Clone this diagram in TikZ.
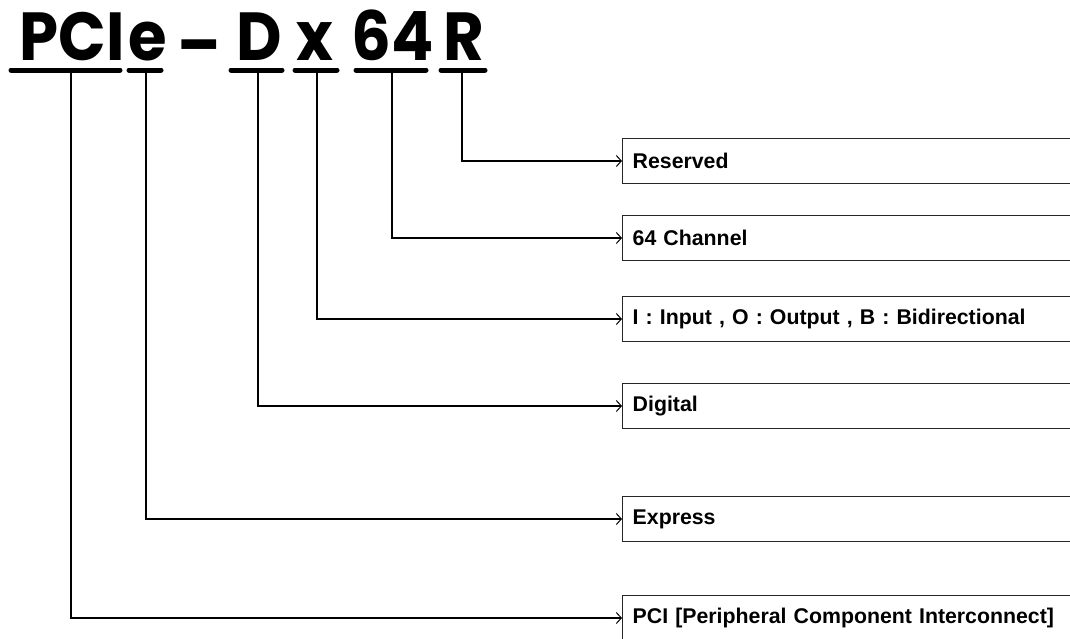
\documentclass[tikz,border=0pt]{standalone}
\usepackage{fontspec}
\setmainfont{Liberation Sans}
\newfontfamily\titlefont{Poppins}[FakeStretch=0.92]
\usetikzlibrary{arrows.meta}
\begin{document}
\begin{tikzpicture}[x=1pt,y=-1pt,
  ttl/.style={font=\titlefont\bfseries\fontsize{68}{72}\selectfont, inner sep=0pt, anchor=base},
  uline/.style={line width=5pt, line cap=round},
  conn/.style={line width=1.2pt, -{Straight Barb[length=5pt,width=11pt,line width=1pt]}},
  box/.style={draw=black!85, line width=1.4pt, anchor=west, minimum height=45pt, text width=450pt, inner xsep=10pt, align=left, font=\bfseries\fontsize{21.3}{24}\selectfont}
]
\useasboundingbox (0,0) rectangle (1070,638);
\clip (0,0) rectangle (1070,638);
% title pieces
\node[ttl] (tPCI) at (72.5,60) {PCI};
\node[ttl] (te) at (147.5,60) {e};
\node[ttl] (tdash) at (199.5,68) {–};
\node[ttl] (tD) at (259,60) {D};
\node[ttl] (tx) at (315,60) {x};
\node[ttl] (t64) at (392.5,60) {64};
\node[ttl] (tR) at (464,60) {R};
% underlines
\draw[uline] (11,70) -- (120,70);
\draw[uline] (129,70) -- (161,70);
\draw[uline] (231,70) -- (282,70);
\draw[uline] (295,70) -- (337,70);
\draw[uline] (356,70) -- (426,70);
\draw[uline] (441,70) -- (485,70);
% connector starts
\coordinate (cPCI) at (71,72);
\coordinate (ce) at (146,72);
\coordinate (cD) at (258,72);
\coordinate (cx) at (317,72);
\coordinate (c64) at (392,72);
\coordinate (cR) at (462,72);
% boxes
\node[box] (bR) at (622,161) {Reserved};
\node[box] (b64) at (622,238) {64 Channel};
\node[box] (bx) at (622,319) {I : Input , O : Output , B : Bidirectional};
\node[box] (bD) at (622,406) {Digital};
\node[box] (be) at (622,519) {Express};
\node[box] (bPCI) at (622,618) {PCI [Peripheral Component Interconnect]};
% connectors
\draw[conn] (cR) |- (bR.west);
\draw[conn] (c64) |- (b64.west);
\draw[conn] (cx) |- (bx.west);
\draw[conn] (cD) |- (bD.west);
\draw[conn] (ce) |- (be.west);
\draw[conn] (cPCI) |- (bPCI.west);
\end{tikzpicture}
\end{document}
